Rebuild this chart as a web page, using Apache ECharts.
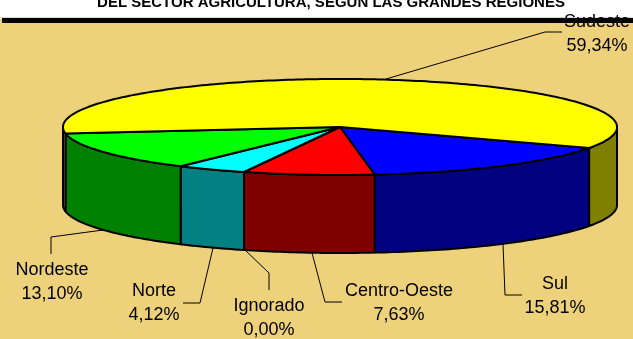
<!DOCTYPE html>
<html><head><meta charset="utf-8">
<style>html,body{margin:0;padding:0;background:#fff}#c{width:633px;height:339px}</style>
<script src="https://cdn.jsdelivr.net/npm/echarts@6/dist/echarts.min.js"></script>
</head><body><div id="c"></div>
<script>
const titleText = 'DEL SECTOR AGRICULTURA, SEGÚN LAS GRANDES REGIONES';
const regions = ['Sul','Centro-Oeste','Ignorado','Norte','Nordeste','Sudeste'];
const shares  = [15.81, 7.63, 0.00, 4.12, 13.10, 59.34];
const topColors  = ['#0000ff','#ff0000','#ffffff','#00ffff','#00ff00','#ffff00'];
const wallColors = ['#000080','#800000','#808080','#008080','#008000','#808000'];

// Layout of the 3D pie (projected ellipse) and of the callouts
const CX=340, CY=127, RX=277, RY=48, DEPTH=78, START=25.9;
const callouts = {
  'Sudeste':      {x:597,y:34, line:[[386,79],[545,32],[562,32]]},
  'Nordeste':     {x:52, y:282,line:[[103,230],[51,237],[51,254]]},
  'Norte':        {x:154,y:303.5,line:[[213,248],[200,303],[183,303]]},
  'Ignorado':     {x:269,y:318,line:[[245,250],[269,273],[269,290]]},
  'Centro-Oeste': {x:399,y:303,line:[[312,253],[325,302],[342,302]]},
  'Sul':          {x:555,y:296,line:[[503,244],[505,295],[522,295]]}
};
const total = shares.reduce((a,b)=>a+b,0);
const startAt = i => START + shares.slice(0,i).reduce((a,b)=>a+b,0)/total*360;
const pt = (deg,dy=0)=>{const r=deg*Math.PI/180;return [CX+RX*Math.cos(r),CY+dy+RY*Math.sin(r)];};
function arc(a,b,dy=0){const n=Math.max(2,Math.ceil(Math.abs(b-a)));const p=[];for(let k=0;k<=n;k++)p.push(pt(a+(b-a)*k/n,dy));return p;}
const style=(fill)=>({fill,stroke:'#000',lineWidth:2,lineJoin:'round'});

function renderWall(params,api){
  const i=params.dataIndex, a=startAt(i), b=a+api.value(1)/total*360;
  const children=[];
  // visible front parts are the angles within 0..180 (mod 360)
  [[0,180],[360,540]].forEach(([lo,hi])=>{
    const s=Math.max(a,lo), e=Math.min(b,hi);
    if(e>s){
      const points=arc(s,e).concat(arc(e,s,DEPTH));
      children.push({type:'polygon',shape:{points},style:style(wallColors[i])});
    }
  });
  return {type:'group',children};
}
function renderTop(params,api){
  const i=params.dataIndex, a=startAt(i), b=a+api.value(1)/total*360;
  const points=[[CX,CY]].concat(arc(a,b));
  return {type:'polygon',shape:{points},style:style(topColors[i])};
}
function renderCallout(params,api){
  const name=regions[params.dataIndex], c=callouts[name];
  const pct=api.value(1).toFixed(2).replace('.',',')+'%';
  return {type:'group',children:[
    {type:'polyline',shape:{points:c.line},style:{fill:null,stroke:'#000',lineWidth:1}},
    {type:'text',x:c.x,y:c.y,style:{text:name+'\n'+pct,fill:'#000',font:'18px "Liberation Sans"',
      align:'center',verticalAlign:'middle',lineHeight:24}}
  ]};
}
const rows=regions.map((n,i)=>[n,shares[i]]);
const chart=echarts.init(document.getElementById('c'),null,{renderer:'canvas'});
chart.setOption({
  animation:false,
  backgroundColor:'#fff',
  graphic:[
    {type:'rect',z:0,shape:{x:0,y:19,width:633,height:320},style:{fill:'#eed17b'}},
    {type:'rect',z:0,shape:{x:0,y:17,width:633,height:1},style:{fill:'#d8d8d8'}},
    {type:'rect',z:0,shape:{x:2,y:18,width:631,height:5},style:{fill:'#000'}},
    {type:'text',z:0,x:331,y:10,style:{text:titleText,fill:'#000',font:'bold 15px "Liberation Sans"',align:'center',verticalAlign:'bottom'}}
  ],
  series:[
    {type:'custom',coordinateSystem:'none',z:2,data:rows,renderItem:renderWall,silent:true},
    {type:'custom',coordinateSystem:'none',z:3,data:rows,renderItem:renderTop,silent:true},
    {type:'custom',coordinateSystem:'none',z:4,data:rows,renderItem:renderCallout,silent:true}
  ]
});
</script></body></html>
